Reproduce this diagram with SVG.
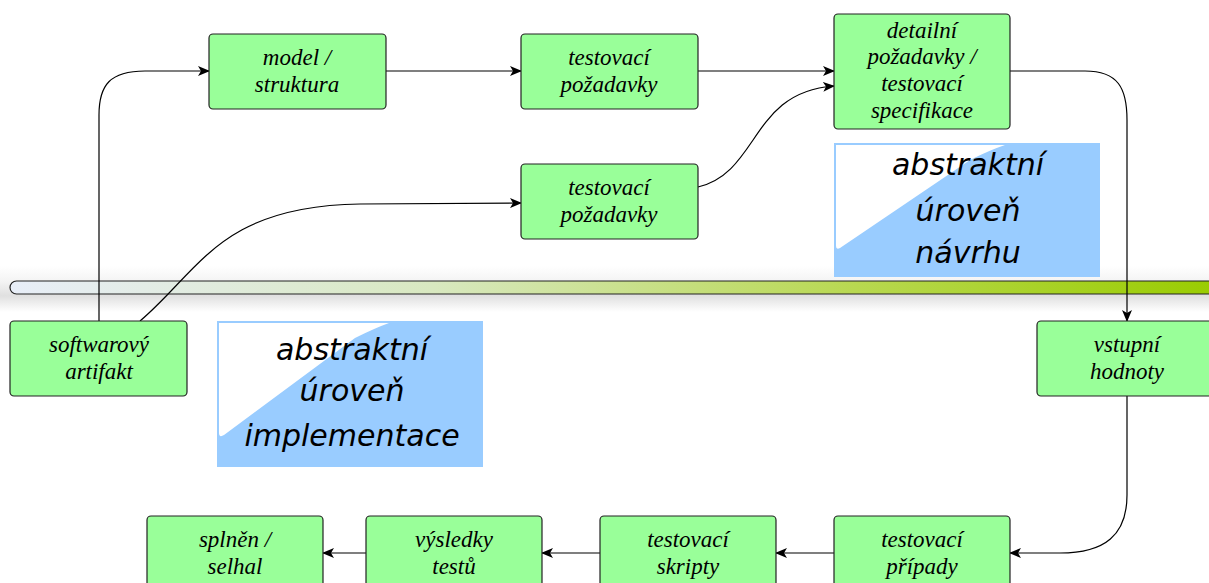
<svg xmlns="http://www.w3.org/2000/svg" width="1209" height="583" viewBox="0 0 1209 583">
<defs>
<style>
.n rect{fill:#99ff99;stroke:#222;stroke-width:1.2}
.n text{font-family:"Liberation Serif",serif;font-style:italic;font-size:23px;fill:#000;text-anchor:middle}
.c path{fill:none;stroke:#000;stroke-width:1.2;marker-end:url(#ah)}
.lab text{font-family:"DejaVu Sans",sans-serif;font-style:italic;font-size:30px;font-weight:300;fill:#000;text-anchor:middle}
</style>
<marker id="ah" viewBox="0 0 12 10" refX="11" refY="5" markerWidth="12" markerHeight="10" markerUnits="userSpaceOnUse" orient="auto">
<path d="M0 0 L12 5 L0 10 L3 5 Z" fill="#000"/>
</marker>
<linearGradient id="bar" x1="0" y1="0" x2="1" y2="0">
<stop offset="0" stop-color="#e8eef8"/>
<stop offset="0.35" stop-color="#d8e8c0"/>
<stop offset="0.7" stop-color="#b8d850"/>
<stop offset="1" stop-color="#99cc00"/>
</linearGradient>
<linearGradient id="sh" x1="0" y1="0" x2="0" y2="1">
<stop offset="0" stop-color="#fff"/>
<stop offset="0.35" stop-color="#f3f3f3"/>
<stop offset="0.65" stop-color="#e0e0e0"/>
<stop offset="1" stop-color="#fff"/>
</linearGradient>
</defs>
<rect width="1209" height="583" fill="#fff"/>
<g id="bar-separator">
<rect x="0" y="266" width="1209" height="46" fill="url(#sh)"/>
<rect x="10" y="281" width="1210" height="13" rx="6.5" fill="url(#bar)" stroke="#222" stroke-width="1.2"/>
</g>
<g id="label-design" class="lab">
<rect x="834" y="143" width="266" height="134" fill="#99ccff"/>
<path d="M836 145 L1005 145 Q990 150 970 160 L840 248 Q836 250 836 246 Z" fill="#fff"/>
<text x="968" y="175">abstraktní</text>
<text x="968" y="221">úroveň</text>
<text x="968" y="263">návrhu</text>
</g>
<g id="label-impl" class="lab">
<rect x="217" y="321" width="266" height="146" fill="#99ccff"/>
<path d="M219 323 L389 323 Q375 328 355 338 L224 435 Q219 438 219 433 Z" fill="#fff"/>
<text x="352" y="360">abstraktní</text>
<text x="352" y="401">úroveň</text>
<text x="352" y="446">implementace</text>
</g>
<g class="c" id="connectors">
<path d="M99 321 L99 115 C99 85 110 71 145 71 L209 71"/>
<path d="M140 321 C200 270 220 206 360 204 L521 203"/>
<path d="M386 71 L521 71"/>
<path d="M698 71 L834 71"/>
<path d="M698 187 C760 172 750 92 834 86"/>
<path d="M1010 71 L1085 71 C1118 71 1127 88 1127 120 L1127 321"/>
<path d="M1127 396 L1127 495 C1127 535 1105 553 1060 553 L1010 553"/>
<path d="M834 553 L776 553"/>
<path d="M600 553 L542 553"/>
<path d="M366 553 L323 553"/>
</g>
<g id="n-model" class="n"><rect x="209" y="34" width="177" height="75" rx="4"/><text x="297" y="65">model /</text><text x="297" y="92">struktura</text></g>
<g id="n-tp1" class="n"><rect x="521" y="34" width="177" height="75" rx="4"/><text x="609" y="65">testovací</text><text x="609" y="92">požadavky</text></g>
<g id="n-detail" class="n"><rect x="834" y="14" width="176" height="115" rx="4"/><text x="922" y="38">detailní</text><text x="922" y="64">požadavky /</text><text x="922" y="91">testovací</text><text x="922" y="118">specifikace</text></g>
<g id="n-tp2" class="n"><rect x="521" y="164" width="177" height="75" rx="4"/><text x="609" y="195">testovací</text><text x="609" y="222">požadavky</text></g>
<g id="n-sw" class="n"><rect x="10" y="321" width="177" height="75" rx="4"/><text x="99" y="352">softwarový</text><text x="99" y="379">artifakt</text></g>
<g id="n-vstup" class="n"><rect x="1037" y="321" width="177" height="75" rx="4"/><text x="1127" y="352">vstupní</text><text x="1127" y="379">hodnoty</text></g>
<g id="n-pripady" class="n"><rect x="834" y="516" width="176" height="80" rx="4"/><text x="922" y="547">testovací</text><text x="922" y="574">případy</text></g>
<g id="n-skripty" class="n"><rect x="600" y="516" width="176" height="80" rx="4"/><text x="688" y="547">testovací</text><text x="688" y="574">skripty</text></g>
<g id="n-vysledky" class="n"><rect x="366" y="516" width="176" height="80" rx="4"/><text x="454" y="547">výsledky</text><text x="454" y="574">testů</text></g>
<g id="n-splnen" class="n"><rect x="147" y="516" width="176" height="80" rx="4"/><text x="235" y="547">splněn /</text><text x="235" y="574">selhal</text></g>
</svg>
